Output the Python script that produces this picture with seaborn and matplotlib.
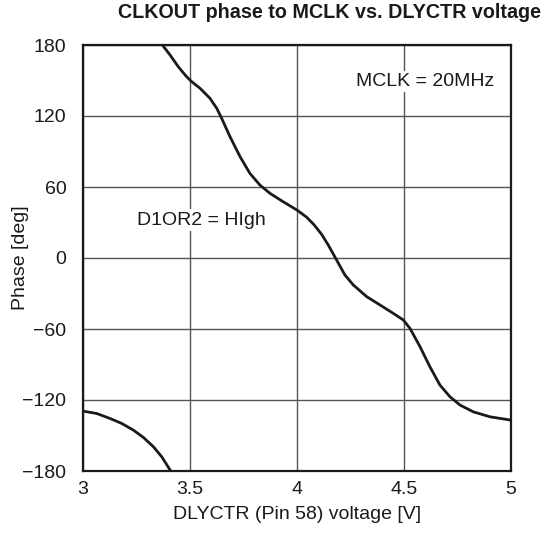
import matplotlib
matplotlib.use("Agg")
import matplotlib.pyplot as plt
import seaborn as sns
import pandas as pd

# Main curve (D1OR2 = High)
volt_main = [3.371, 3.407, 3.445, 3.484, 3.508, 3.547, 3.593, 3.625, 3.648, 3.687,
             3.734, 3.780, 3.827, 3.874, 3.936, 4.000, 4.045, 4.080, 4.115, 4.146,
             4.185, 4.224, 4.263, 4.326, 4.388, 4.450, 4.497, 4.528, 4.575, 4.621,
             4.668, 4.715, 4.762, 4.824, 4.902, 5.000]
phase_main = [180, 171.5, 161.7, 153.2, 149, 143.4, 135, 126.5, 118, 102.5,
              85.6, 71.5, 61.6, 54.6, 47.5, 40.5, 34.5, 28.0, 20.0, 11,
              -1.7, -14.4, -22.8, -32.7, -39.7, -46.8, -52.4, -59.5, -75, -91.9,
              -107.4, -117.3, -124.3, -130, -134.2, -137]

# Wrapped part of the curve (bottom-left)
volt_wrap = [3.0, 3.064, 3.126, 3.181, 3.235, 3.282, 3.329, 3.368, 3.41]
phase_wrap = [-129.4, -131.4, -135.6, -139.8, -145.4, -151.6, -159.5, -168, -180]

x_ticks = [3, 3.5, 4, 4.5, 5]
x_ticklabels = ["3", "3.5", "4", "4.5", "5"]
y_ticks = [-180, -120, -60, 0, 60, 120, 180]
y_ticklabels = ["\u2212180", "\u2212120", "\u221260", "0", "60", "120", "180"]

title = "CLKOUT phase to MCLK vs. DLYCTR voltage"
xlabel = "DLYCTR (Pin 58) voltage [V]"
ylabel = "Phase [deg]"
note_clk = "MCLK = 20MHz"
note_d1 = "D1OR2 = HIgh"

sns.set_theme(style="white")
plt.rcParams["font.family"] = ["Liberation Sans", "DejaVu Sans"]

fig = plt.figure(figsize=(5.44, 5.33), dpi=100)
ax = fig.add_axes([83 / 544, 1 - 471 / 533, 428 / 544, 426 / 533])

df_main = pd.DataFrame({"v": volt_main, "p": phase_main})
df_wrap = pd.DataFrame({"v": volt_wrap, "p": phase_wrap})
for d in (df_main, df_wrap):
    sns.lineplot(data=d, x="v", y="p", ax=ax, color="#1a1a1a", linewidth=2.0,
                 sort=False, estimator=None, zorder=3,
                 solid_joinstyle="round", solid_capstyle="butt")

ax.set_xlim(3, 5)
ax.set_ylim(-180, 180)
ax.set_xticks(x_ticks)
ax.set_xticklabels(x_ticklabels)
ax.set_yticks(y_ticks)
ax.set_yticklabels(y_ticklabels)
ax.tick_params(axis="both", length=0, labelsize=14, colors="#1a1a1a")
ax.tick_params(axis="y", pad=12)
ax.tick_params(axis="x", pad=7)

ax.grid(True, color="#555555", linewidth=1.0)
ax.set_axisbelow(True)
for s in ax.spines.values():
    s.set_color("#1a1a1a")
    s.set_linewidth(1.6)
    s.set_visible(True)

ax.set_xlabel(xlabel, fontsize=14, color="#1a1a1a")
ax.set_ylabel(ylabel, fontsize=14, color="#1a1a1a")
ax.xaxis.set_label_coords(0.5, -0.082)
ax.yaxis.set_label_coords(-0.127, 0.5)

ax.text(4.597, 149, note_clk, fontsize=14, ha="center", va="center", color="#1a1a1a",
        bbox=dict(facecolor="white", edgecolor="none", pad=1.5), zorder=4)
ax.text(3.554, 32, note_d1, fontsize=14, ha="center", va="center", color="#1a1a1a",
        bbox=dict(facecolor="white", edgecolor="none", pad=1.5), zorder=4)

fig.text(329 / 544, 1 - 13 / 533, title, fontsize=14.2, fontweight="bold",
         ha="center", va="center", color="#1a1a1a")

fig.savefig("out.png", dpi=100)
